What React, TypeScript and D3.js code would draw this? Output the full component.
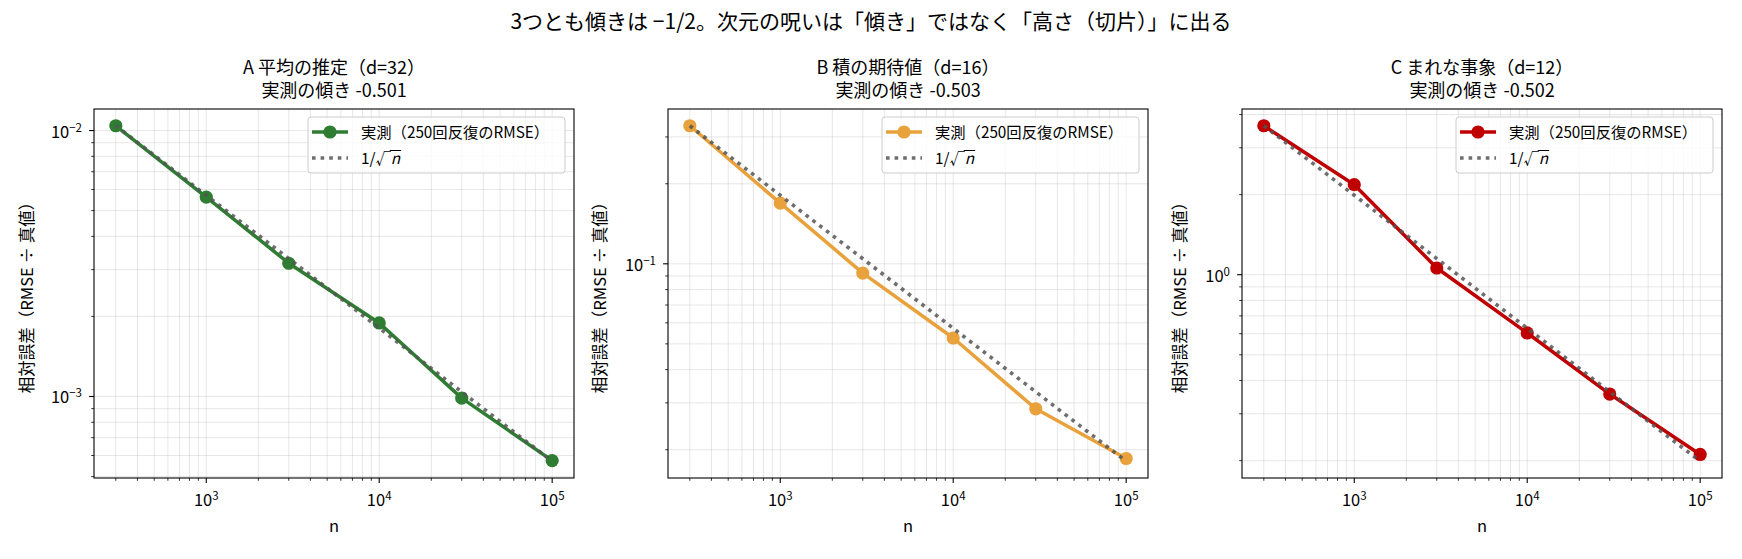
import { useRef, useEffect } from 'react';
import * as d3 from 'd3';

// sample sizes (x axis, shared)
const nValues = [300, 1000, 3000, 10000, 30000, 100000];

// measured relative RMSE per panel
const rmseA = [0.01042, 0.00562, 0.00317, 0.00189, 0.000986, 0.000574];
const rmseB = [0.3304, 0.169, 0.0923, 0.0526, 0.0285, 0.01853];
const rmseC = [3.63, 2.18, 1.06, 0.604, 0.356, 0.211];

// 1/sqrt(n) reference, anchored at the first point
const refA = [0.01042, 0.00571, 0.0033, 0.00181, 0.00104, 0.000571];
const refB = [0.3304, 0.181, 0.1045, 0.0572, 0.033, 0.0181];
const refC = [3.63, 1.99, 1.15, 0.629, 0.363, 0.199];

const panelTitles = ['A 平均の推定（d=32）', 'B 積の期待値（d=16）', 'C まれな事象（d=12）'];
const slopeLabels = ['実測の傾き -0.501', '実測の傾き -0.503', '実測の傾き -0.502'];
const seriesColors = ['#2e7d32', '#e9a23b', '#c00000'];

const suptitle = '3つとも傾きは −1/2。次元の呪いは「傾き」ではなく「高さ（切片）」に出る';
const xLabel = 'n';
const yLabel = '相対誤差（RMSE ÷ 真値）';
const legendMeasured = '実測（250回反復のRMSE）';

const FONT = '"Noto Sans CJK JP", "Noto Sans", sans-serif';
const W = 1742;
const H = 559;

export default function App() {
  const svgRef = useRef<SVGSVGElement>(null);

  useEffect(() => {
    if (!svgRef.current) return;
    const svg = d3.select(svgRef.current);
    svg.selectAll('*').remove();

    svg.append('rect').attr('width', W).attr('height', H).attr('fill', 'white');

    svg.append('text')
      .attr('x', W / 2)
      .attr('y', 29)
      .attr('text-anchor', 'middle')
      .attr('font-size', 21)
      .attr('font-family', FONT)
      .text(suptitle);

    const panels = [
      { values: rmseA, ref: refA, left: 94, ylabelX: 27 },
      { values: rmseB, ref: refB, left: 668, ylabelX: 600 },
      { values: rmseC, ref: refC, left: 1242, ylabelX: 1180 },
    ];

    const top = 109;
    const pw = 480;
    const ph = 369;

    const logPad = (lo: number, hi: number) => {
      const a = Math.log10(lo);
      const b = Math.log10(hi);
      const m = (b - a) * 0.05;
      return [Math.pow(10, a - m), Math.pow(10, b + m)];
    };

    const superLabel = (sel: d3.Selection<SVGTextElement, unknown, null, undefined>, v: number) => {
      const e = Math.round(Math.log10(v));
      sel.append('tspan').text('10');
      sel.append('tspan')
        .attr('dy', -6)
        .attr('font-size', 11.5)
        .text(e < 0 ? `−${-e}` : `${e}`);
    };

    panels.forEach((p, i) => {
      const color = seriesColors[i];
      const [xlo, xhi] = logPad(d3.min(nValues)!, d3.max(nValues)!);
      const allY = [...p.values, ...p.ref];
      const [ylo, yhi] = logPad(d3.min(allY)!, d3.max(allY)!);

      const x = d3.scaleLog().domain([xlo, xhi]).range([0, pw]);
      const y = d3.scaleLog().domain([ylo, yhi]).range([ph, 0]);

      const isMajor = (v: number) => Math.abs(Math.log10(v) - Math.round(Math.log10(v))) < 1e-9;
      const xTicks = x.ticks().filter(v => v >= xlo && v <= xhi);
      const yTicks = y.ticks().filter(v => v >= ylo && v <= yhi);

      const g = svg.append('g').attr('transform', `translate(${p.left},${top})`);

      // grid (major + minor)
      g.selectAll('.gx')
        .data(xTicks)
        .enter()
        .append('line')
        .attr('x1', d => x(d))
        .attr('x2', d => x(d))
        .attr('y1', 0)
        .attr('y2', ph)
        .attr('stroke', '#b0b0b0')
        .attr('stroke-opacity', 0.35)
        .attr('stroke-width', 0.9);
      g.selectAll('.gy')
        .data(yTicks)
        .enter()
        .append('line')
        .attr('x1', 0)
        .attr('x2', pw)
        .attr('y1', d => y(d))
        .attr('y2', d => y(d))
        .attr('stroke', '#b0b0b0')
        .attr('stroke-opacity', 0.35)
        .attr('stroke-width', 0.9);

      // measured series
      const pts = nValues.map((n, k) => [n, p.values[k]] as [number, number]);
      const line = d3.line<[number, number]>().x(d => x(d[0])).y(d => y(d[1]));
      g.append('path')
        .attr('d', line(pts))
        .attr('fill', 'none')
        .attr('stroke', color)
        .attr('stroke-width', 3.5)
        .attr('stroke-linejoin', 'round');
      g.selectAll('.dot')
        .data(pts)
        .enter()
        .append('circle')
        .attr('cx', d => x(d[0]))
        .attr('cy', d => y(d[1]))
        .attr('r', 6.6)
        .attr('fill', color);

      // reference 1/sqrt(n)
      const refPts = nValues.map((n, k) => [n, p.ref[k]] as [number, number]);
      g.append('path')
        .attr('d', line(refPts))
        .attr('fill', 'none')
        .attr('stroke', '#555')
        .attr('stroke-opacity', 0.85)
        .attr('stroke-width', 3.6)
        .attr('stroke-dasharray', '3.6,5');

      // spines
      g.append('rect')
        .attr('width', pw)
        .attr('height', ph)
        .attr('fill', 'none')
        .attr('stroke', 'black')
        .attr('stroke-width', 1.1);

      // x ticks
      xTicks.forEach(v => {
        const major = isMajor(v);
        g.append('line')
          .attr('x1', x(v)).attr('x2', x(v))
          .attr('y1', ph).attr('y2', ph + (major ? 4.9 : 2.8))
          .attr('stroke', 'black')
          .attr('stroke-width', major ? 1.1 : 0.8);
        if (major) {
          const t = g.append('text')
            .attr('x', x(v))
            .attr('y', ph + 28)
            .attr('text-anchor', 'middle')
            .attr('font-size', 16.5)
            .attr('font-family', FONT);
          superLabel(t, v);
        }
      });

      // y ticks
      yTicks.forEach(v => {
        const major = isMajor(v);
        g.append('line')
          .attr('x1', 0).attr('x2', -(major ? 4.9 : 2.8))
          .attr('y1', y(v)).attr('y2', y(v))
          .attr('stroke', 'black')
          .attr('stroke-width', major ? 1.1 : 0.8);
        if (major) {
          const t = g.append('text')
            .attr('x', -12)
            .attr('y', y(v) + 7)
            .attr('text-anchor', 'end')
            .attr('font-size', 16.5)
            .attr('font-family', FONT);
          superLabel(t, v);
        }
      });

      // axis labels
      g.append('text')
        .attr('x', pw / 2)
        .attr('y', ph + 54)
        .attr('text-anchor', 'middle')
        .attr('font-size', 16.5)
        .attr('font-family', FONT)
        .text(xLabel);
      g.append('text')
        .attr('transform', `translate(${p.ylabelX - p.left + 6},${ph / 2}) rotate(-90)`)
        .attr('text-anchor', 'middle')
        .attr('font-size', 16.5)
        .attr('font-family', FONT)
        .text(yLabel);

      // titles
      g.append('text')
        .attr('x', pw / 2)
        .attr('y', -35)
        .attr('text-anchor', 'middle')
        .attr('font-size', 18)
        .attr('font-family', FONT)
        .text(panelTitles[i]);
      g.append('text')
        .attr('x', pw / 2)
        .attr('y', -12)
        .attr('text-anchor', 'middle')
        .attr('font-size', 18)
        .attr('font-family', FONT)
        .text(slopeLabels[i]);

      // legend
      const lw = 257;
      const lh = 56;
      const lg = g.append('g').attr('transform', `translate(${pw - 9 - lw},8)`);
      lg.append('rect')
        .attr('width', lw)
        .attr('height', lh)
        .attr('rx', 3)
        .attr('fill', 'white')
        .attr('fill-opacity', 0.8)
        .attr('stroke', '#cccccc')
        .attr('stroke-width', 1);
      lg.append('line')
        .attr('x1', 4).attr('x2', 40)
        .attr('y1', 15).attr('y2', 15)
        .attr('stroke', color)
        .attr('stroke-width', 3.5);
      lg.append('circle').attr('cx', 22).attr('cy', 15).attr('r', 6.6).attr('fill', color);
      lg.append('text')
        .attr('x', 53)
        .attr('y', 20.5)
        .attr('font-size', 15.3)
        .attr('font-family', FONT)
        .text(legendMeasured);
      lg.append('line')
        .attr('x1', 4).attr('x2', 40)
        .attr('y1', 41).attr('y2', 41)
        .attr('stroke', '#555')
        .attr('stroke-opacity', 0.85)
        .attr('stroke-width', 3.6)
        .attr('stroke-dasharray', '3.6,5');
      const rt = lg.append('text')
        .attr('x', 53)
        .attr('y', 47)
        .attr('font-size', 15.3)
        .attr('font-family', FONT);
      rt.append('tspan').text('1/√');
      rt.append('tspan').attr('font-style', 'italic').text('n');
      const node = rt.node() as SVGTextElement;
      try {
        const x0 = node.getEndPositionOfChar(2).x;
        const x1 = node.getEndPositionOfChar(3).x;
        lg.append('line')
          .attr('x1', x0 - 1).attr('x2', x1 + 1)
          .attr('y1', 33.5).attr('y2', 33.5)
          .attr('stroke', 'black')
          .attr('stroke-width', 1);
      } catch (e) {
        // measuring not available
      }
    });
  }, []);

  return (
    <svg
      ref={svgRef}
      width={W}
      height={H}
      style={{ position: 'absolute', left: 0, top: 0, display: 'block' }}
    />
  );
}
